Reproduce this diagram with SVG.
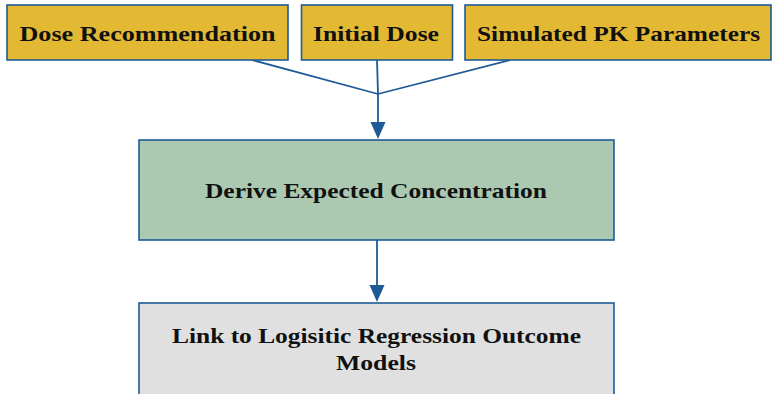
<svg xmlns="http://www.w3.org/2000/svg" width="772" height="394" viewBox="0 0 772 394">
<defs>
<style>
.box{stroke:#1E5A96;stroke-width:1.6}
.gold{fill:#E3B833}
.green{fill:#ABC8B1}
.gray{fill:#E0E0E0}
.t{font-family:"Liberation Serif","DejaVu Serif",serif;font-weight:bold;font-size:22px;fill:#111;text-anchor:middle}
.c{stroke:#1E5A96;stroke-width:1.8;fill:none}
</style>
</defs>
<rect width="772" height="394" fill="#fff"/>
<g id="connectors">
<line class="c" x1="252" y1="60" x2="378" y2="94"/>
<line class="c" x1="377" y1="60" x2="378" y2="94"/>
<line class="c" x1="510" y1="60" x2="378" y2="94"/>
<path d="M378,94 L378,122" class="c"/>
<path d="M370.5,122 L385.5,122 L378,139 z" fill="#1E5A96"/>
<path d="M377,240 L377,285" class="c"/>
<path d="M369.5,285 L384.5,285 L377,302 z" fill="#1E5A96"/>
</g>
<g id="dose-recommendation">
<rect class="box gold" x="7" y="5" width="281" height="55"/>
<text class="t" x="147.5" y="40.5" textLength="256" lengthAdjust="spacingAndGlyphs">Dose Recommendation</text>
</g>
<g id="initial-dose">
<rect class="box gold" x="301.5" y="5" width="151" height="55"/>
<text class="t" x="376" y="40.5" textLength="126" lengthAdjust="spacingAndGlyphs">Initial Dose</text>
</g>
<g id="simulated-pk">
<rect class="box gold" x="465" y="5" width="306" height="55"/>
<text class="t" x="618.5" y="40.5" textLength="283" lengthAdjust="spacingAndGlyphs">Simulated PK Parameters</text>
</g>
<g id="derive">
<rect class="box green" x="139" y="140" width="475" height="100"/>
<text class="t" x="376" y="198" textLength="342" lengthAdjust="spacingAndGlyphs">Derive Expected Concentration</text>
</g>
<g id="link">
<rect class="box gray" x="139" y="303" width="475" height="100"/>
<text class="t" x="376.5" y="343" textLength="409" lengthAdjust="spacingAndGlyphs">Link to Logisitic Regression Outcome</text>
<text class="t" x="376" y="370" textLength="80" lengthAdjust="spacingAndGlyphs">Models</text>
</g>
</svg>
